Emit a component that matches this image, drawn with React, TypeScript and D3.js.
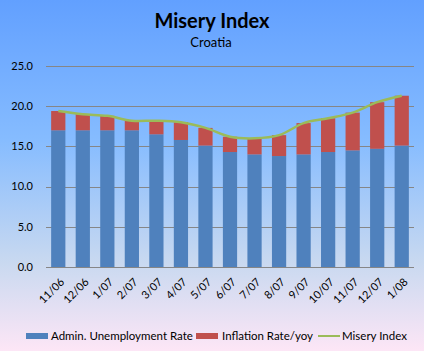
import * as d3 from "d3";

// Misery Index — Croatia, stacked unemployment + inflation with misery line
const MONTHS = ["11/06","12/06","1/07","2/07","3/07","4/07","5/07","6/07","7/07","8/07","9/07","10/07","11/07","12/07","1/08"];
const UNEMPLOYMENT = [17.0,17.0,17.0,17.0,16.5,15.8,15.1,14.3,14.0,13.8,14.0,14.3,14.5,14.7,15.1];
const INFLATION = [2.4,2.0,1.8,1.2,1.7,2.2,2.2,1.9,2.0,2.6,3.9,4.2,4.7,5.8,6.2];
const Y_TICKS = [0, 5, 10, 15, 20, 25];

const W = 424, H = 351;
const M = { top: 66, right: 10, bottom: 84, left: 46 };
const FONT = "Lato, 'Open Sans', sans-serif";
const BLUE = "#4f81bd", RED = "#c0504d", GREEN = "#9bbb59";

export default function App() {
  const innerW = W - M.left - M.right;
  const innerH = H - M.top - M.bottom;

  const x = d3.scaleBand().domain(MONTHS).range([0, innerW]).paddingInner(0.42).paddingOuter(0.21);
  const y = d3.scaleLinear().domain([0, 25]).range([innerH, 0]);
  const bw = x.bandwidth();

  const misery = MONTHS.map((m, i) => ({ m, v: UNEMPLOYMENT[i] + INFLATION[i] }));
  const line = d3.line<{ m: string; v: number }>()
    .x((d) => (x(d.m) ?? 0) + bw / 2)
    .y((d) => y(d.v))
    .curve(d3.curveCatmullRom.alpha(0.5));

  return (
    <svg width={W} height={H} style={{ position: "absolute", left: 0, top: 0 }}>
      <defs>
        <linearGradient id="bg" x1="0" y1="0" x2="0" y2="1">
          <stop offset="0%" stopColor="#62a0ff" />
          <stop offset="40%" stopColor="#86bcff" />
          <stop offset="75%" stopColor="#c9d9f0" />
          <stop offset="100%" stopColor="#fde6f6" />
        </linearGradient>
      </defs>
      <rect width={W} height={H} fill="url(#bg)" />

      <text x={W / 2} y={28} textAnchor="middle" fontSize={20} fontWeight={700} fontFamily={FONT} fill="#000">Misery Index</text>
      <text x={W / 2 - 1} y={47} textAnchor="middle" fontSize={13} fontFamily={FONT} fill="#000">Croatia</text>

      <g transform={`translate(${M.left},${M.top})`}>
        {Y_TICKS.map((t) => (
          <g key={t}>
            <line x1={0} x2={innerW} y1={Math.round(y(t)) + 0.5} y2={Math.round(y(t)) + 0.5} stroke="#868686" strokeWidth={1} />
            <text x={-13} y={y(t)} dy="0.35em" textAnchor="end" fontSize={11} fontFamily={FONT} fill="#000">{t.toFixed(1)}</text>
          </g>
        ))}

        {MONTHS.map((m, i) => {
          const bx = x(m) ?? 0;
          const u = UNEMPLOYMENT[i];
          const inf = INFLATION[i];
          return (
            <g key={m}>
              <rect x={bx} y={y(u)} width={bw} height={y(0) - y(u)} fill={BLUE} />
              <rect x={bx} y={y(u + inf)} width={bw} height={y(u) - y(u + inf)} fill={RED} />
            </g>
          );
        })}

        <path d={line(misery) ?? ""} fill="none" stroke={GREEN} strokeWidth={2.5} />

        {MONTHS.map((m) => {
          const cx = (x(m) ?? 0) + bw / 2 + 4;
          const ty = innerH + 13;
          return (
            <text key={m} x={cx} y={ty} textAnchor="end" fontSize={11} fontFamily={FONT} fill="#000"
              transform={`rotate(-45, ${cx}, ${ty})`} dy="0.35em">
              {m}
            </text>
          );
        })}
      </g>

      <g fontFamily={FONT} fontSize={11.5} fill="#000">
        <rect x={26} y={333} width={22} height={6} fill={BLUE} />
        <text x={51} y={336} dy="0.35em">Admin. Unemployment Rate</text>
        <rect x={196} y={333} width={22} height={6} fill={RED} />
        <text x={222} y={336} dy="0.35em">Inflation Rate/yoy</text>
        <line x1={318} x2={340} y1={336} y2={336} stroke={GREEN} strokeWidth={2} />
        <text x={342} y={336} dy="0.35em">Misery Index</text>
      </g>
    </svg>
  );
}
